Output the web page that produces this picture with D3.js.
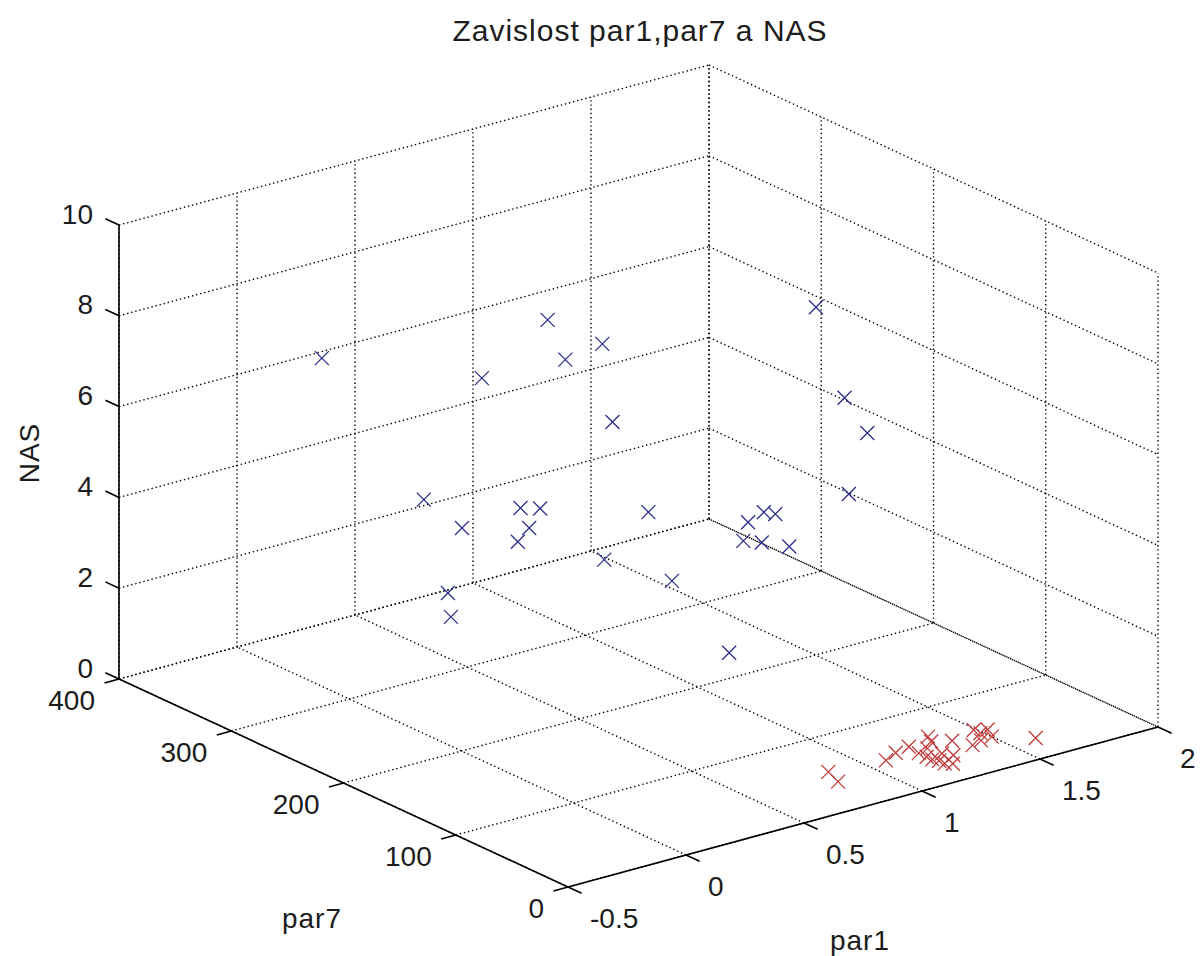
<!DOCTYPE html>
<html>
<head>
<meta charset="utf-8">
<script src="https://cdn.jsdelivr.net/npm/d3@7/dist/d3.min.js"></script>
<style>
  html, body { margin: 0; padding: 0; background: #fff; }
  svg { display: block; }
  text { font-family: "Liberation Sans", Arial, sans-serif; fill: #1c1c1c; }
</style>
</head>
<body>
<svg id="chart" width="1202" height="956"></svg>
<script>
// Axis ticks
const par1Ticks = [-0.5, 0, 0.5, 1, 1.5, 2];
const par7Ticks = [0, 100, 200, 300, 400];
const nasTicks  = [0, 2, 4, 6, 8, 10];

// Group with NAS > 0 (blue)
const bluePar1 = [0.06, 0.36, 0.63, 0.44, 0.11, 0.73, 1.15, 1.49, 1.61, 1.47,
                  0.04, 0.24, 0.25, 0.30, 0.42, 0.31, 0.83, 1.30, 1.40, 1.42,
                  1.18, 1.22, 1.27, 0.70, 1.02, 0.09, -0.04, 1.02];
const bluePar7 = [337, 199, 207, 200, 205, 219, 126, 172, 177, 164,
                  242, 250, 200, 193, 228, 215, 208, 218, 225, 219,
                  197, 189, 175, 220, 227, 231, 201, 176];
const blueNAS  = [7, 9, 8, 8, 8, 6, 9, 6, 5, 4,
                  5, 4, 5, 5, 4, 4, 4, 3, 3, 3,
                  3, 3, 3, 3, 2, 3, 3, 1];

// Group with NAS = 0 (red)
const redPar1 = [0.86, 0.83, 1.08, 1.15, 1.22, 1.33, 1.31, 1.21, 1.21, 1.21,
                 1.22, 1.22, 1.24, 1.27, 1.37, 1.29, 1.40, 1.49, 1.53, 1.50,
                 1.49, 1.61, 1.26, 1.45];
const redPar7 = [54, 39, 49, 55, 58, 64, 57, 47, 40, 35,
                 31, 26, 23, 39, 51, 33, 39, 51, 53, 43,
                 57, 27, 50, 42];
const redNAS  = redPar1.map(() => 0);

const svg = d3.select("#chart");

// Normalised 3-D scales
const sx = d3.scaleLinear().domain([-0.5, 2]).range([0, 1]);
const sy = d3.scaleLinear().domain([0, 400]).range([0, 1]);
const sz = d3.scaleLinear().domain([0, 10]).range([0, 1]);

// Oblique (orthographic) view: origin corner and the screen vectors of each axis
const O = [568, 887];
const U = [590, -160];   // par1 direction
const V = [-449, -208];  // par7 direction
const W = [0, -454];     // NAS direction

function proj(p1, p7, n) {
  const a = sx(p1), b = sy(p7), c = sz(n);
  return [O[0] + a * U[0] + b * V[0] + c * W[0],
          O[1] + a * U[1] + b * V[1] + c * W[1]];
}

const [x0, x1] = sx.domain();
const [y0, y1] = sy.domain();
const [z0, z1] = sz.domain();

const line = d3.line();
const gGrid = svg.append("g")
  .attr("fill", "none")
  .attr("stroke", "#000")
  .attr("stroke-width", 1.4)
  .attr("stroke-dasharray", "1.4,2.8");

function seg(p, q) {
  gGrid.append("path").attr("d", line([proj(...p), proj(...q)]));
}

// floor grid
par1Ticks.forEach(t => seg([t, y0, z0], [t, y1, z0]));
par7Ticks.forEach(t => seg([x0, t, z0], [x1, t, z0]));
// back wall (par7 = max)
par1Ticks.forEach(t => seg([t, y1, z0], [t, y1, z1]));
nasTicks.forEach(t => seg([x0, y1, t], [x1, y1, t]));
// side wall (par1 = max)
par7Ticks.forEach(t => seg([x1, t, z0], [x1, t, z1]));
nasTicks.forEach(t => seg([x1, y1, t], [x1, y0, t]));

// Solid axes
const gAxes = svg.append("g").attr("stroke", "#000").attr("stroke-width", 1.6).attr("fill", "none");
gAxes.append("path").attr("d", line([proj(x0, y1, z0), proj(x0, y1, z1)]));
gAxes.append("path").attr("d", line([proj(x0, y1, z0), proj(x0, y0, z0)]));
gAxes.append("path").attr("d", line([proj(x0, y0, z0), proj(x1, y0, z0)]));

// Tick directions (unit vectors of the projected axes)
function unit(v) { const l = Math.hypot(v[0], v[1]); return [v[0] / l, v[1] / l]; }
const uU = unit(U), uV = unit(V);
const TL = 15;
const FS = 28;

// NAS ticks point along +par7
nasTicks.forEach(t => {
  const p = proj(x0, y1, t);
  gAxes.append("path").attr("d", line([p, [p[0] + uV[0] * TL, p[1] + uV[1] * TL]]));
  svg.append("text").attr("x", p[0] - 26).attr("y", p[1] - 11)
    .attr("text-anchor", "end").attr("dominant-baseline", "central")
    .attr("font-size", FS).text(d3.format("d")(t));
});

// par7 ticks point along -par1
par7Ticks.forEach(t => {
  const p = proj(x0, t, z0);
  gAxes.append("path").attr("d", line([p, [p[0] - uU[0] * TL, p[1] - uU[1] * TL]]));
  svg.append("text").attr("x", p[0] - 24).attr("y", p[1] + 21)
    .attr("text-anchor", "end").attr("dominant-baseline", "central")
    .attr("font-size", FS).text(t);
});

// par1 ticks point along -par7
const fmt1 = d => (Number.isInteger(d) ? d3.format("d")(d) : String(d));
par1Ticks.forEach(t => {
  const p = proj(t, y0, z0);
  gAxes.append("path").attr("d", line([p, [p[0] - uV[0] * TL, p[1] - uV[1] * TL]]));
  svg.append("text").attr("x", p[0] + 22).attr("y", p[1] + 31)
    .attr("text-anchor", "start").attr("dominant-baseline", "central")
    .attr("font-size", FS).text(fmt1(t));
});

// Axis labels and title
svg.append("text").attr("transform", "translate(29,453) rotate(-90)")
  .attr("text-anchor", "middle").attr("dominant-baseline", "central")
  .attr("font-size", FS).attr("letter-spacing", 1).text("NAS");
svg.append("text").attr("x", 312).attr("y", 918)
  .attr("text-anchor", "middle").attr("dominant-baseline", "central")
  .attr("font-size", FS).attr("letter-spacing", 1).text("par7");
svg.append("text").attr("x", 860).attr("y", 940)
  .attr("text-anchor", "middle").attr("dominant-baseline", "central")
  .attr("font-size", FS).attr("letter-spacing", 1).text("par1");
svg.append("text").attr("x", 640).attr("y", 30)
  .attr("text-anchor", "middle").attr("dominant-baseline", "central")
  .attr("font-size", 30).attr("letter-spacing", 1).text("Zavislost par1,par7 a NAS");

// Markers
const xMark = "M-7,-7L7,7M-7,7L7,-7";
function drawSeries(p1, p7, n, color) {
  svg.append("g").attr("stroke", color).attr("stroke-width", 1.3).attr("fill", "none")
    .selectAll("path").data(p1.map((d, i) => [d, p7[i], n[i]]))
    .join("path")
    .attr("transform", d => { const p = proj(...d); return `translate(${p[0]},${p[1]})`; })
    .attr("d", xMark);
}
drawSeries(bluePar1, bluePar7, blueNAS, "#2e2e8a");
drawSeries(redPar1, redPar7, redNAS, "#c23a3a");
</script>
</body>
</html>
